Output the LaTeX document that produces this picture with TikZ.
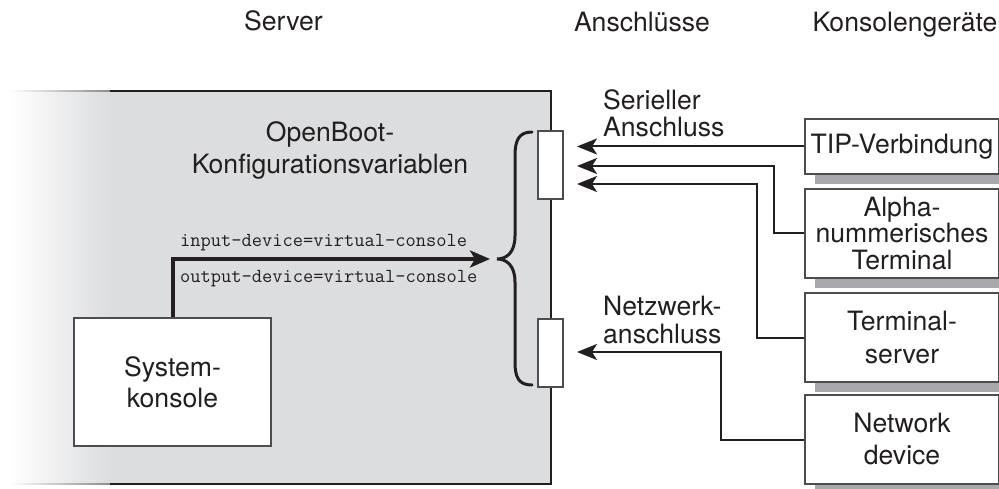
\documentclass[tikz,border=0pt]{standalone}
\usepackage{fontspec}
\setmainfont{TeX Gyre Heros}
\usetikzlibrary{arrows.meta,calc}
\definecolor{boxgray}{HTML}{DCDDDF}
\definecolor{ink}{HTML}{231F20}
\definecolor{edgecol}{HTML}{4D4D4F}
\definecolor{shadowgray}{HTML}{A7A9AC}
\definecolor{fadeline}{HTML}{8A8A8C}
\begin{document}
\begin{tikzpicture}[x=1pt,y=-1pt,
  lbl/.style={font=\fontsize{26.6}{30}\selectfont, inner sep=0pt, text=ink},
  mono/.style={font=\fontsize{19.9}{22}\ttfamily, inner sep=0pt, text=ink},
  boxbase/.style={draw=edgecol, line width=1.2pt, fill=white, inner sep=0pt, align=center, text=ink},
  devbox/.style={boxbase, minimum width=194pt},
  portbox/.style={boxbase, minimum width=25pt, minimum height=68pt},
  conn/.style={draw=ink, line width=2pt, -{Stealth[length=20pt,width=16pt,inset=5pt]}},
  thick conn/.style={draw=ink, line width=4pt, -{Stealth[length=20pt,width=17pt,inset=5pt]}}
]
\useasboundingbox (0,0) rectangle (999,489);
\fill[white] (0,0) rectangle (999,489);

% server panel
\fill[boxgray] (110,91) rectangle (551,484);
\shade[left color=white, right color=boxgray] (10,91) rectangle (110.5,484);
\shade[left color=white, right color=fadeline] (10,90.25) rectangle (110,91.75);
\shade[left color=white, right color=fadeline] (10,483.25) rectangle (110,484.75);
\draw[ink, line width=1.5pt] (110,91) -- (551,91) -- (551,484) -- (110,484);

% headers
\node[lbl, anchor=base] (hserver) at (283.5,31) {Server};
\node[lbl, anchor=base] (hports) at (642,32) {Anschlüsse};
\node[lbl, anchor=base] (hdevs) at (905,32) {Konsolengeräte};

% OpenBoot text
\node[lbl, anchor=base] (ob1) at (330,142) {OpenBoot-};
\node[lbl, anchor=base] (ob2) at (330,174) {Konfigurationsvariablen};

% system console
\node[boxbase, minimum width=197pt, minimum height=128pt,
      font=\fontsize{26.6}{31}\selectfont] (sys) at (172.5,382) {System-\\konsole};

% ports
\node[portbox] (serial) at (550.5,165) {};
\node[portbox] (net) at (550.5,353) {};

% port labels
\node[lbl, anchor=base west] (ser1) at (603,110) {Serieller};
\node[lbl, anchor=base west] (ser2) at (603,137) {Anschluss};
\node[lbl, anchor=base west] (net1) at (603,315) {Netzwerk-};
\node[lbl, anchor=base west] (net2) at (603,343) {anschluss};

% brace
\draw[ink, line width=3pt, line cap=round]
  (532,132) .. controls (519,132) and (515,140) .. (515,156)
  -- (515,236) .. controls (515,252) and (507,259) .. (497,259)
  .. controls (507,259) and (515,266) .. (515,282)
  -- (515,362) .. controls (515,378) and (519,385) .. (532,385);

% variables arrow
\coordinate (varend) at (490,259);
\draw[thick conn] (sys.north) |- (varend);
\node[mono, anchor=base west] (inlbl) at (180,247) {input-device=virtual-console};
\node[mono, anchor=base west] (outlbl) at (180,283) {output-device=virtual-console};

% device boxes
\node[devbox, minimum height=55pt, font=\fontsize{26.6}{28}\selectfont] (tip) at (902,146.5) {TIP-Verbindung};
\node[devbox, minimum height=89pt, font=\fontsize{26.6}{26.5}\selectfont] (alpha) at (902,233.5) {Alpha-\\nummerisches\\Terminal};
\node[devbox, minimum height=89pt, font=\fontsize{26.6}{33}\selectfont] (term) at (902,337.5) {Terminal-\\server};
\node[devbox, minimum height=89pt, font=\fontsize{26.6}{32}\selectfont] (netdev) at (902,439.5) {Network\\device};

% shadows
\foreach \b in {tip,alpha,term,netdev}{
  \fill[shadowgray] ($(\b.south west)+(11,0.7)$) rectangle ($(\b.south east)+(11,9)$);
}

% connectors
\coordinate (a1) at (577,147);
\coordinate (a2) at (577,166);
\coordinate (a3) at (577,184);
\coordinate (a4) at (577,352);
\coordinate (k2) at (774,166);
\coordinate (k3) at (757,184);
\coordinate (k4) at (721,352);
\draw[conn] (tip.west) -- (tip.west -| a1);
\draw[conn] (alpha.west) -| (k2) -- (a2);
\draw[conn] (term.west) -| (k3) -- (a3);
\draw[conn] (netdev.west) -| (k4) -- (a4);
\end{tikzpicture}
\end{document}
